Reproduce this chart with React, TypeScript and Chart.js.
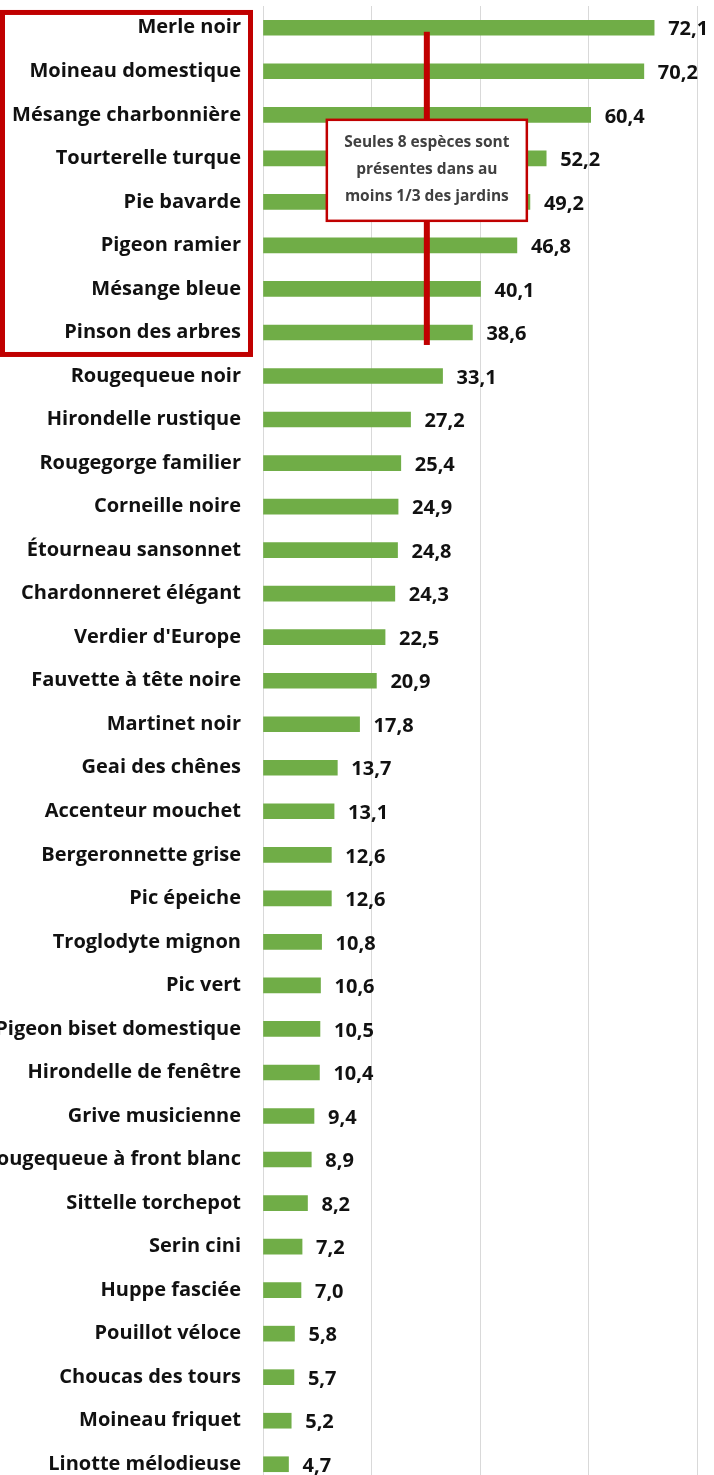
import React, { useEffect, useRef } from "react";
import { Chart, registerables } from "chart.js";

Chart.register(...registerables);

const species = [
  "Merle noir",
  "Moineau domestique",
  "Mésange charbonnière",
  "Tourterelle turque",
  "Pie bavarde",
  "Pigeon ramier",
  "Mésange bleue",
  "Pinson des arbres",
  "Rougequeue noir",
  "Hirondelle rustique",
  "Rougegorge familier",
  "Corneille noire",
  "Étourneau sansonnet",
  "Chardonneret élégant",
  "Verdier d'Europe",
  "Fauvette à tête noire",
  "Martinet noir",
  "Geai des chênes",
  "Accenteur mouchet",
  "Bergeronnette grise",
  "Pic épeiche",
  "Troglodyte mignon",
  "Pic vert",
  "Pigeon biset domestique",
  "Hirondelle de fenêtre",
  "Grive musicienne",
  "Rougequeue à front blanc",
  "Sittelle torchepot",
  "Serin cini",
  "Huppe fasciée",
  "Pouillot véloce",
  "Choucas des tours",
  "Moineau friquet",
  "Linotte mélodieuse",
];

const presence = [
  72.1, 70.2, 60.4, 52.2, 49.2, 46.8, 40.1, 38.6, 33.1, 27.2, 25.4, 24.9, 24.8,
  24.3, 22.5, 20.9, 17.8, 13.7, 13.1, 12.6, 12.6, 10.8, 10.6, 10.5, 10.4, 9.4,
  8.9, 8.2, 7.2, 7.0, 5.8, 5.7, 5.2, 4.7,
];

const axisMin = 0;
const axisMax = 80;
const axisStep = 20;

const noteLines = ["Seules 8 espèces sont", "présentes dans au", "moins 1/3 des jardins"];
const highlightedCount = 8;
const noteLineValue = 30.2;

const FONT = "'Open Sans', 'DejaVu Sans', sans-serif";
const RED = "#c00000";

const fmt = (v: number) => v.toFixed(1).replace(".", ",");

const overlayPlugin = {
  id: "overlay",
  afterDatasetsDraw(chart: any) {
    const ctx = chart.ctx;
    const xs = chart.scales.x;
    const ys = chart.scales.y;
    const meta = chart.getDatasetMeta(0);

    // value labels
    ctx.save();
    ctx.font = `bold 20px ${FONT}`;
    ctx.fillStyle = "#111111";
    ctx.textAlign = "left";
    ctx.textBaseline = "middle";
    meta.data.forEach((bar: any, i: number) => {
      ctx.fillText(fmt(presence[i]), bar.x + 14, bar.y + 2);
    });
    ctx.restore();

    const yFirst = ys.getPixelForValue(0);
    const yLast = ys.getPixelForValue(highlightedCount - 1);

    // red frame around the top labels
    ctx.save();
    ctx.strokeStyle = RED;
    ctx.lineWidth = 5;
    ctx.strokeRect(2.5, yFirst - 15.3, 248, yLast - yFirst + 37.3);
    ctx.restore();

    // vertical red line
    const lx = xs.getPixelForValue(noteLineValue);
    ctx.save();
    ctx.fillStyle = RED;
    ctx.fillRect(lx - 3, yFirst + 4, 6, yLast - yFirst + 8.5);
    ctx.restore();

    // note box
    const boxTop = ys.getPixelForValue(2) + 5;
    const boxW = 200;
    const boxH = 101;
    const boxL = lx - boxW / 2;
    ctx.save();
    ctx.fillStyle = "#ffffff";
    ctx.fillRect(boxL, boxTop, boxW, boxH);
    ctx.strokeStyle = RED;
    ctx.lineWidth = 2.5;
    ctx.strokeRect(boxL, boxTop, boxW, boxH);
    ctx.font = `bold 15.5px ${FONT}`;
    ctx.fillStyle = "#404040";
    ctx.textAlign = "center";
    ctx.textBaseline = "middle";
    noteLines.forEach((t, i) => {
      ctx.fillText(t, lx, boxTop + 23 + i * 27);
    });
    ctx.restore();
  },
};

export default function App() {
  const ref = useRef<HTMLCanvasElement | null>(null);

  useEffect(() => {
    if (!ref.current) return;
    const chart = new Chart(ref.current, {
      type: "bar",
      data: {
        labels: species,
        datasets: [
          {
            data: presence,
            backgroundColor: "#70ad47",
            borderWidth: 0,
            barThickness: 15,
          },
        ],
      },
      options: {
        indexAxis: "y",
        animation: false,
        responsive: false,
        devicePixelRatio: 1,
        layout: { padding: { top: 6, bottom: 4, left: 0, right: 17 } },
        plugins: {
          legend: { display: false },
          tooltip: { enabled: false },
        },
        scales: {
          x: {
            min: axisMin,
            max: axisMax,
            ticks: { stepSize: axisStep, display: false },
            grid: { color: "#d9d9d9", lineWidth: 1, drawTicks: false },
            border: { display: false },
            afterFit: (s: any) => {
              s.height = 0;
              s.paddingLeft = 0;
              s.paddingRight = 0;
              s.paddingTop = 0;
              s.paddingBottom = 0;
            },
          },
          y: {
            grid: { display: false, drawTicks: false },
            border: { display: false },
            ticks: {
              padding: 22,
              color: "#111111",
              font: { family: FONT, size: 20, weight: "bold" },
              autoSkip: false,
            },
            afterFit: (s: any) => {
              s.width = 263;
              s.paddingLeft = 0;
              s.paddingRight = 0;
              s.paddingTop = 0;
              s.paddingBottom = 0;
            },
          },
        },
      },
      plugins: [overlayPlugin],
    });
    return () => chart.destroy();
  }, []);

  return (
    <div
      style={{
        position: "fixed",
        left: 0,
        top: 0,
        width: 714,
        height: 1475,
        overflow: "hidden",
        background: "#ffffff",
      }}
    >
      <canvas ref={ref} width={714} height={1490} style={{ display: "block" }} />
    </div>
  );
}
